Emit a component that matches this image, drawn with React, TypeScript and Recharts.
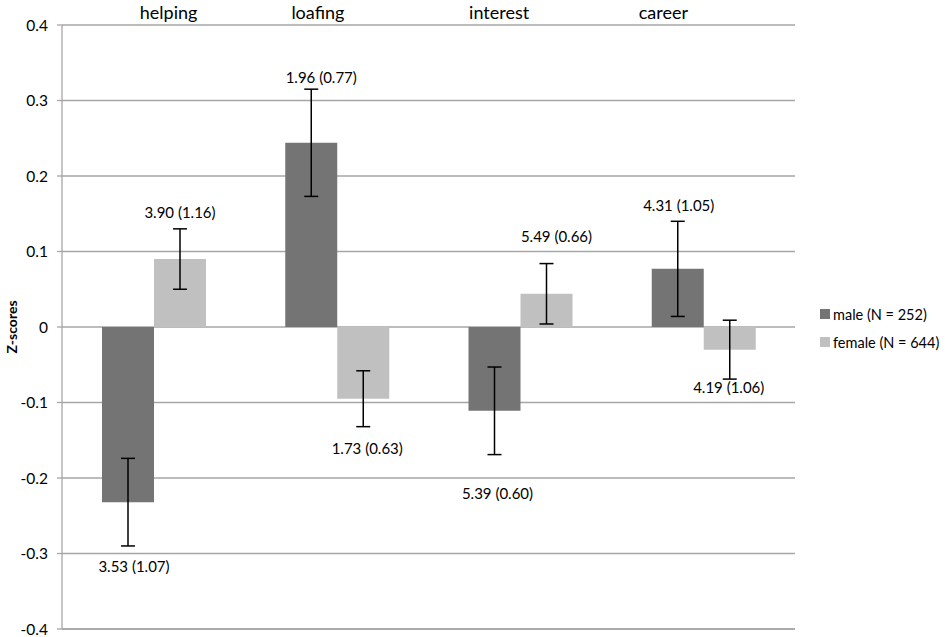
import React from "react";
import {
  BarChart,
  Bar,
  XAxis,
  YAxis,
  CartesianGrid,
  ErrorBar,
  LabelList,
  Legend,
  ReferenceLine,
} from "recharts";

// values
const categories = ["helping", "loafing", "interest", "career"];
const maleZ = [-0.232, 0.244, -0.111, 0.077];
const maleErr = [0.058, 0.071, 0.058, 0.063];
const maleMeans = ["3.53 (1.07)", "1.96 (0.77)", "5.39 (0.60)", "4.31 (1.05)"];
const femaleZ = [0.09, -0.095, 0.044, -0.03];
const femaleErr = [0.04, 0.037, 0.04, 0.039];
const femaleMeans = ["3.90 (1.16)", "1.73 (0.63)", "5.49 (0.66)", "4.19 (1.06)"];
const yTicks = [-0.4, -0.3, -0.2, -0.1, 0, 0.1, 0.2, 0.3, 0.4];
const seriesOrder = ["male", "female"];

// hand placement of the text boxes (px)
const catShift = [15, -19, -21, -40];
const maleGap = [20, 12, 38, 16];
const maleDx = [6, 10, 3, 1];
const femaleGap = [17, 21, 28, 8];
const femaleDx = [0, 4, 10, -1];

const MALE = "#747474";
const FEMALE = "#c0c0c0";
const GRID = "#a6a6a6";
const FONT = "Lato, 'Open Sans', sans-serif";

const data = categories.map((category, i) => ({
  category,
  male: maleZ[i],
  maleErr: maleErr[i],
  female: femaleZ[i],
  femaleErr: femaleErr[i],
}));

const makeLabel =
  (errs: number[], texts: string[], gaps: number[], shifts: number[]) =>
  (props: any) => {
    const { x, y, width, height, value, index } = props;
    const v = Number(value);
    const top = Math.min(y, y + height);
    const bot = Math.max(y, y + height);
    const ppu = (bot - top) / Math.abs(v);
    const cx = x + width / 2 + shifts[index];
    const up = v >= 0;
    const end = up ? top - errs[index] * ppu : bot + errs[index] * ppu;
    const ty = up ? end - gaps[index] : end + gaps[index];
    return (
      <text
        x={cx}
        y={ty}
        textAnchor="middle"
        dominantBaseline="central"
        fontSize={15}
        fontFamily={FONT}
        fill="#000"
      >
        {texts[index]}
      </text>
    );
  };

const CategoryTick = (props: any) => {
  const { x, y, payload, index } = props;
  return (
    <text
      x={x + catShift[index]}
      y={y - 13}
      textAnchor="middle"
      dominantBaseline="central"
      fontSize={18}
      fontFamily={FONT}
      fill="#000"
    >
      {payload.value}
    </text>
  );
};

const renderLegend = (props: any) => {
  const items = [...props.payload].sort(
    (a: any, b: any) =>
      seriesOrder.indexOf(a.dataKey) - seriesOrder.indexOf(b.dataKey)
  );
  return (
    <div style={{ paddingLeft: 25, fontFamily: FONT, fontSize: 14.5 }}>
      {items.map((entry: any) => (
        <div
          key={entry.value}
          style={{
            display: "flex",
            alignItems: "center",
            height: 28,
            whiteSpace: "nowrap",
          }}
        >
          <span
            style={{
              width: 10,
              height: 10,
              flexShrink: 0,
              background: entry.color,
              marginRight: 3,
              display: "inline-block",
            }}
          />
          <span style={{ color: "#000" }}>{entry.value}</span>
        </div>
      ))}
    </div>
  );
};

const App = () => {
  return (
    <div
      style={{
        position: "absolute",
        left: 0,
        top: 0,
        width: 945,
        height: 637,
        background: "#fff",
      }}
    >
      <BarChart
        width={945}
        height={637}
        data={data}
        margin={{ top: 0, right: 5, bottom: 8, left: 0 }}
        barSize={52}
        barGap={0}
      >
        <CartesianGrid vertical={false} stroke={GRID} strokeWidth={1.3} />
        <ReferenceLine y={-0.4} stroke={GRID} strokeWidth={1.3} />
        <XAxis
          dataKey="category"
          orientation="top"
          height={25}
          axisLine={false}
          tickLine={false}
          tickSize={0}
          tickMargin={0}
          tick={<CategoryTick />}
          interval={0}
        />
        <YAxis
          width={62}
          domain={[-0.4, 0.4]}
          ticks={yTicks}
          interval={0}
          allowDataOverflow
          tickFormatter={(v: number) => (v === 0 ? "0" : v.toFixed(1))}
          axisLine={{ stroke: GRID, strokeWidth: 1.3 }}
          tickLine={{ stroke: GRID, strokeWidth: 1.3 }}
          tickSize={5}
          tickMargin={9}
          tick={{ fill: "#000", fontSize: 15.5, fontFamily: FONT }}
          label={{
            content: (p: any) => {
              const vb = p.viewBox;
              return (
                <text
                  x={vb.x + 11}
                  y={vb.y + vb.height / 2}
                  transform={`rotate(-90, ${vb.x + 11}, ${vb.y + vb.height / 2})`}
                  textAnchor="middle"
                  dominantBaseline="central"
                  fontSize={14}
                  fontWeight="bold"
                  fontFamily={FONT}
                  fill="#000"
                >
                  Z-scores
                </text>
              );
            },
          }}
        />
        <Legend
          layout="vertical"
          align="right"
          verticalAlign="middle"
          content={renderLegend}
          wrapperStyle={{ width: 145, top: 300 }}
        />
        <Bar
          dataKey="male"
          name="male (N = 252)"
          fill={MALE}
          isAnimationActive={false}
        >
          <ErrorBar dataKey="maleErr" width={7} stroke="#000" strokeWidth={1.5} />
          <LabelList
            dataKey="male"
            content={makeLabel(maleErr, maleMeans, maleGap, maleDx)}
          />
        </Bar>
        <Bar
          dataKey="female"
          name="female (N = 644)"
          fill={FEMALE}
          isAnimationActive={false}
        >
          <ErrorBar dataKey="femaleErr" width={7} stroke="#000" strokeWidth={1.5} />
          <LabelList
            dataKey="female"
            content={makeLabel(femaleErr, femaleMeans, femaleGap, femaleDx)}
          />
        </Bar>
      </BarChart>
    </div>
  );
};

export default App;
